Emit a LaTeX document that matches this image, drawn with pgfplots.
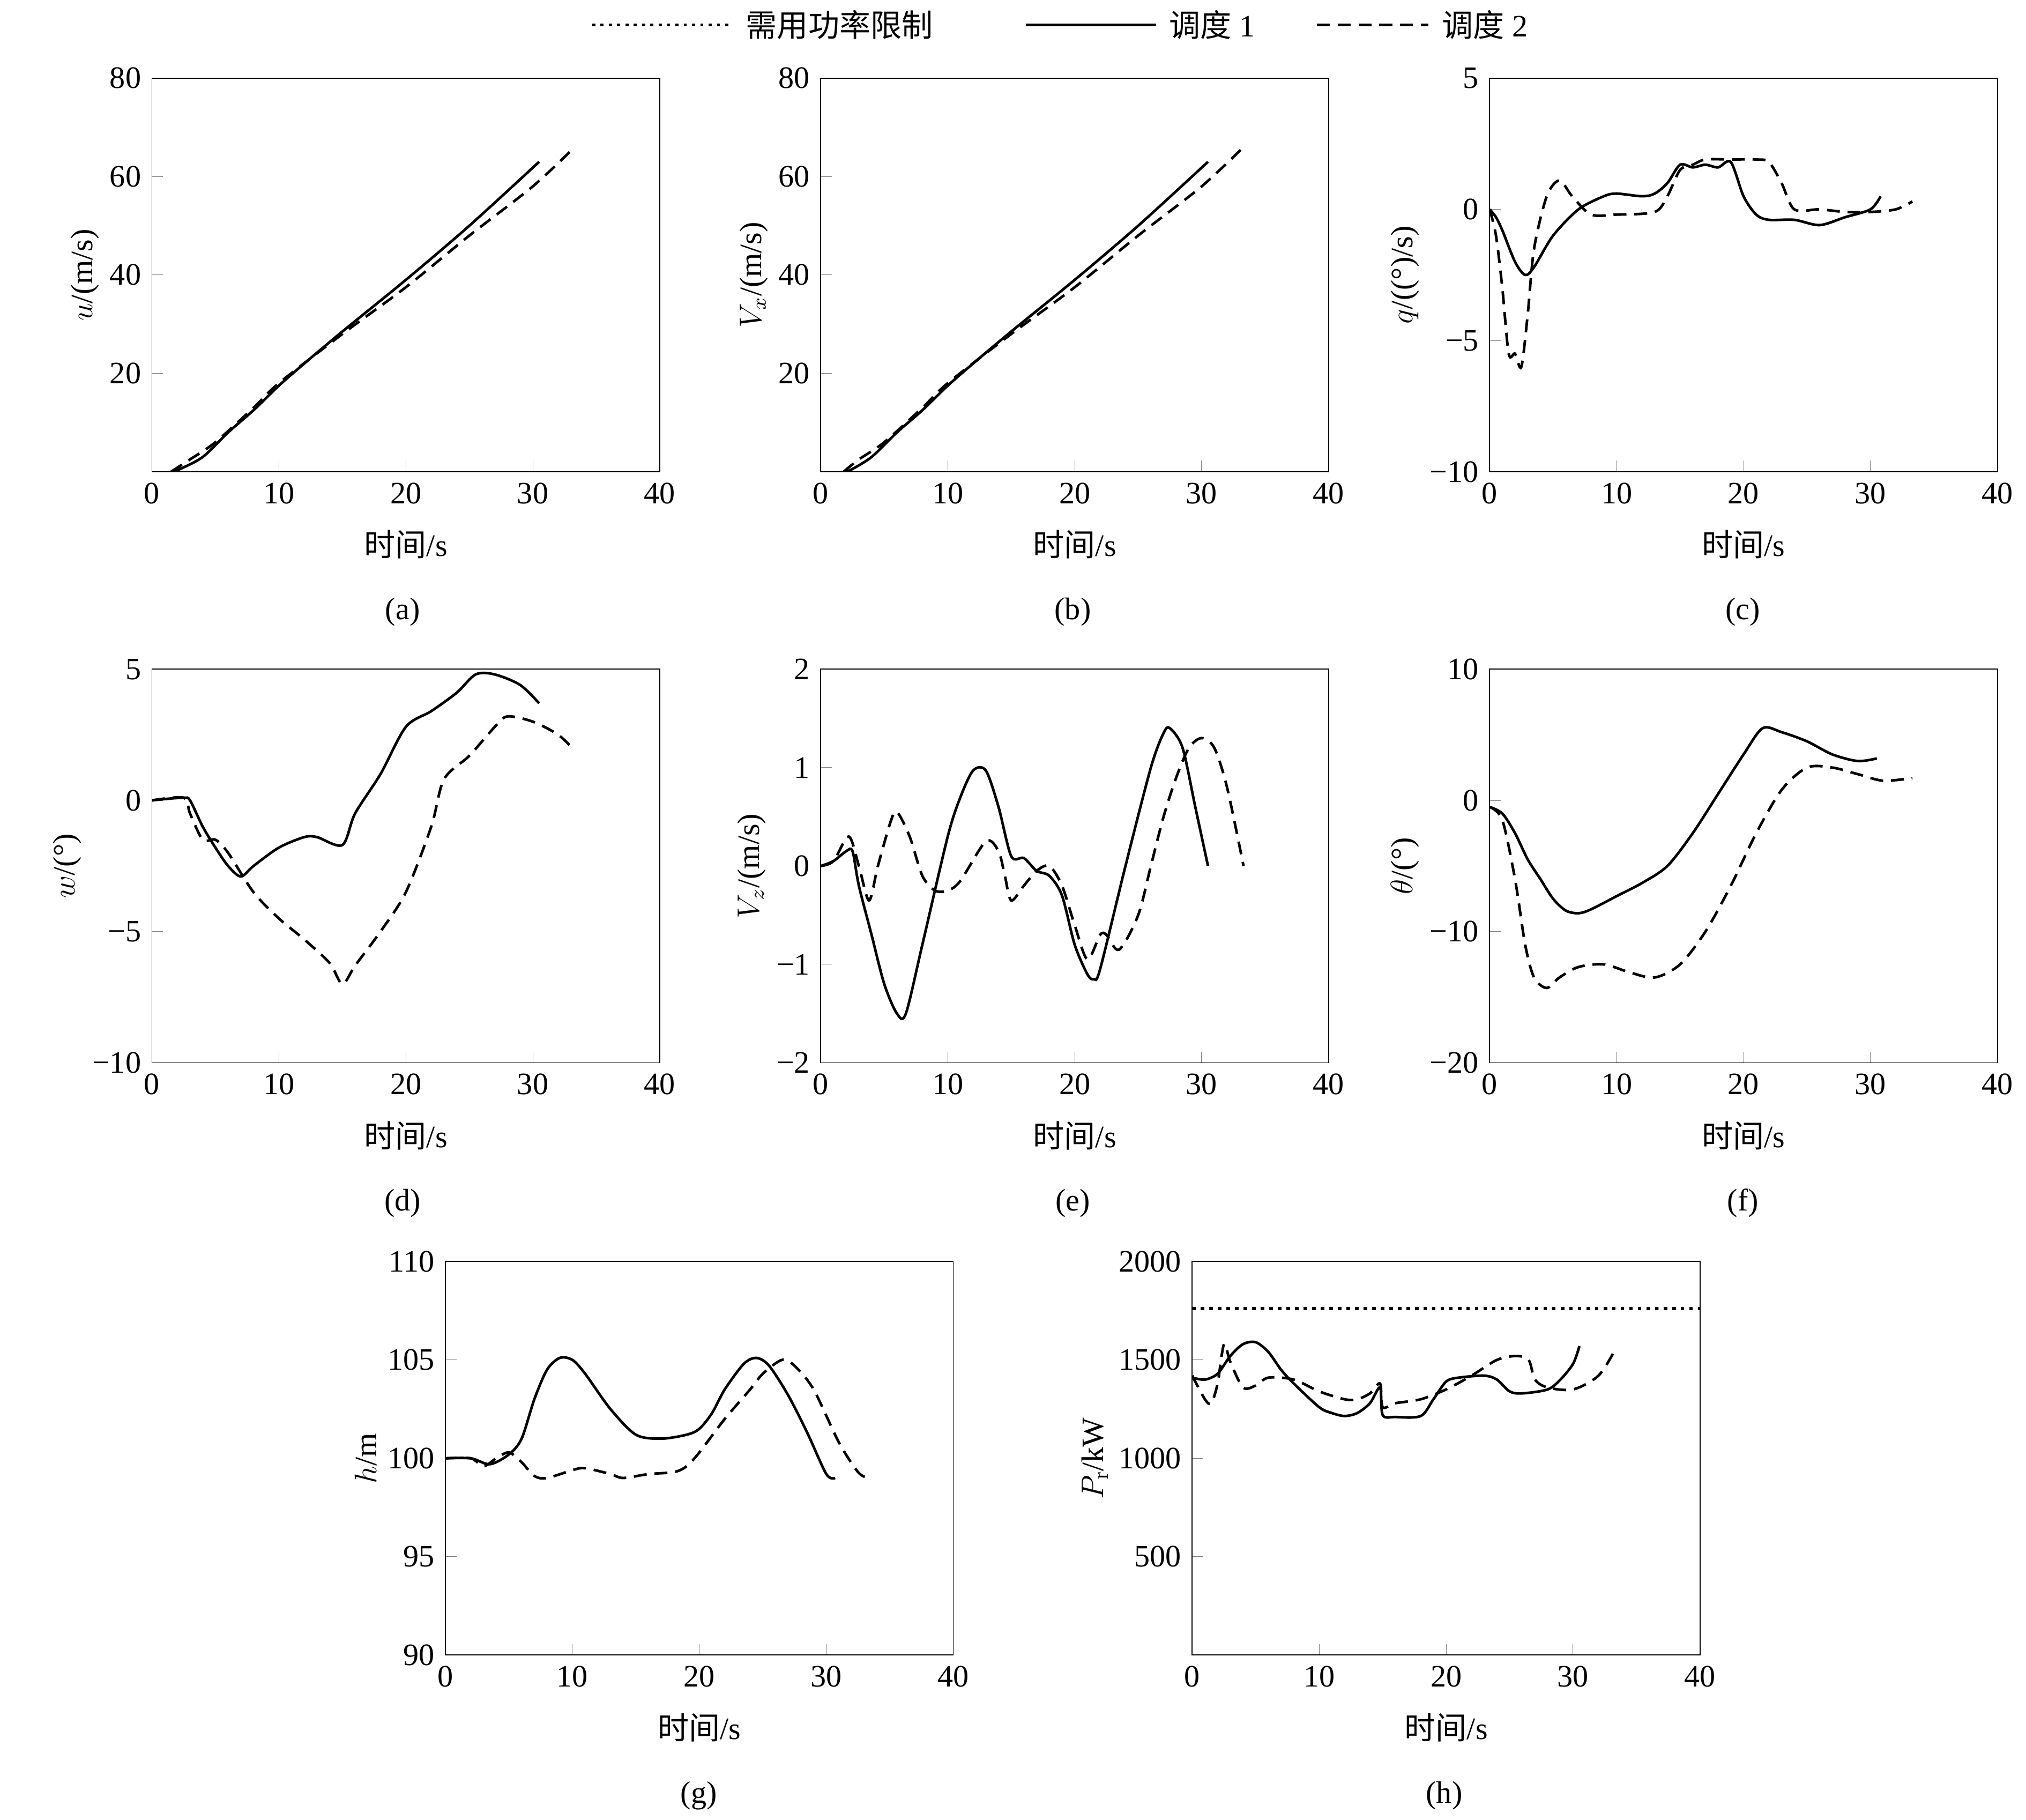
\documentclass[border=0pt]{standalone}
\usepackage{pgfplots}
\pgfplotsset{compat=1.18}
\usepackage{fontspec}
\setmainfont{Liberation Serif}
\newfontfamily\cjk{Noto Sans CJK SC}
\begin{document}
\fontsize{12}{14}\selectfont
\begin{tikzpicture}
\pgfplotsset{base/.style={scale only axis,width=195.5pt,height=151.5pt,anchor=south west,
 xmin=0,xmax=40,xtick={0,10,20,30,40},tick align=inside,xtick pos=left,ytick pos=left,
 /pgf/number format/assume math mode=true,/pgf/number format/1000 sep={},tick label style={font=\fontsize{12}{14}\selectfont},
 label style={font=\fontsize{12}{14}\selectfont},
 xlabel={{\cjk 时间}/s},xlabel style={yshift=-2pt},ylabel style={yshift=-4pt},
 every axis plot/.append style={black,line width=1pt,smooth}},
 sol/.style={solid},das/.style={dashed,dash pattern=on 5pt off 3pt}}
\path (0,0) rectangle (780pt,696pt);
% legend
\draw[black,line width=1.2pt,dotted] (228pt,689pt)--(282pt,689pt);
\node[anchor=west] at (283pt,689pt) {\cjk 需用功率限制};
\draw[black,line width=1pt] (395pt,689pt)--(445pt,689pt);
\node[anchor=west] at (446pt,689pt) {{\cjk 调度} 1};
\draw[black,line width=1pt,dash pattern=on 5pt off 3pt] (507pt,689pt)--(550pt,689pt);
\node[anchor=west] at (551pt,689pt) {{\cjk 调度} 2};
% (a)
\begin{axis}[base,at={(58.5pt,517pt)},ymin=0,ymax=80,ytick={20,40,60,80},ylabel={$u$/(m/s)}]
\addplot[sol] coordinates {(1.5,0)(2,0.3)(4,3)(6,8)(8,12.5)(10,17.5)(12,22)(15,28.5)(20,39)(25,50)(30.5,63)};
\addplot[das] coordinates {(1.5,0)(3,2.5)(5,6)(8,13)(10,18)(15,28)(20,37.5)(25,48)(30,58)(33.3,66)};
\end{axis}
\node at (155pt,463pt) {(a)};
% (b)
\begin{axis}[base,at={(316pt,517pt)},ymin=0,ymax=80,ytick={20,40,60,80},ylabel={$V_x$/(m/s)}]
\addplot[sol] coordinates {(1.8,0)(2.3,0.3)(4,3)(6,8)(8,12.5)(10,17.5)(12,22)(15,28.5)(20,39)(25,50)(30.5,63)};
\addplot[das] coordinates {(1.8,0)(3,2.5)(5,6)(8,13)(10,18)(15,28)(20,37.5)(25,48)(30,58)(33.3,66)};
\end{axis}
\node at (413pt,463pt) {(b)};
% (c)
\begin{axis}[base,at={(573.5pt,517pt)},ymin=-10,ymax=5,ytick={-10,-5,0,5},yticklabels={−10,−5,0,5},ylabel={$q$/((\textdegree)/s)}]
\addplot[sol] coordinates {(0,0)(0.5,-0.3)(1,-0.8)(2,-2)(2.8,-2.5)(3.5,-2.2)(5,-1)(7,0)(9,0.5)(10,0.6)(12,0.5)(13,0.6)(14,1)(15,1.7)(16,1.6)(17,1.7)(18,1.6)(19,1.8)(20,0.5)(21,-0.2)(22,-0.4)(24,-0.4)(26,-0.6)(28,-0.3)(30,0)(30.8,0.5)};
\addplot[das] coordinates {(0,0)(0.5,-1)(1,-3)(1.5,-5.5)(2,-5.5)(2.5,-6)(3,-4)(3.5,-1.5)(4.5,0.5)(5.5,1.1)(6.5,0.5)(8,-0.2)(10,-0.2)(13,-0.1)(14,0.5)(15,1.5)(16,1.7)(17,1.9)(19,1.9)(21,1.9)(22,1.8)(23,1)(24,0)(26,0)(28,-0.1)(30,-0.1)(32,0)(33.3,0.3)};
\end{axis}
\node at (671pt,463pt) {(c)};
% (d)
\begin{axis}[base,at={(58.5pt,289.5pt)},ymin=-10,ymax=5,ytick={-10,-5,0,5},yticklabels={−10,−5,0,5},ylabel={$w$/(\textdegree)}]
\addplot[sol] coordinates {(0,0)(1,0.05)(2.5,0.1)(3,0)(4,-1)(5,-1.8)(6,-2.5)(7,-2.9)(8,-2.5)(10,-1.8)(12,-1.4)(13,-1.4)(15,-1.7)(16,-0.5)(18,1)(20,2.8)(22,3.4)(24,4.1)(25.5,4.8)(27,4.8)(29,4.4)(30.5,3.7)};
\addplot[das] coordinates {(0,0)(2.5,0.1)(3,-0.5)(4,-1.5)(5,-1.5)(6,-2)(8,-3.5)(10,-4.5)(12,-5.3)(14,-6.2)(15,-7)(16,-6.3)(18,-5)(20,-3.5)(22,-1)(23,0.8)(25,1.7)(27,2.8)(28,3.2)(30,3)(32,2.5)(33.3,1.9)};
\end{axis}
\node at (155pt,235.5pt) {(d)};
% (e)
\begin{axis}[base,at={(316pt,289.5pt)},ymin=-2,ymax=2,ytick={-2,-1,0,1,2},yticklabels={−2,−1,0,1,2},ylabel={$V_z$/(m/s)}]
\addplot[sol] coordinates {(0,0)(1,0.05)(2,0.15)(2.5,0.15)(3,-0.2)(4,-0.7)(5,-1.2)(6,-1.5)(6.7,-1.5)(8,-0.8)(10,0.3)(11,0.7)(12,0.97)(13,0.97)(14,0.6)(15,0.1)(16,0.08)(17,-0.05)(18,-0.1)(19,-0.3)(20,-0.8)(21,-1.1)(21.5,-1.15)(22,-1.05)(24,0)(26,1)(27,1.35)(27.5,1.4)(28.5,1.2)(29.5,0.6)(30.5,0)};
\addplot[das] coordinates {(0,0)(1,0.05)(2.2,0.3)(3,0)(3.8,-0.35)(4.5,0)(5.5,0.45)(6,0.55)(7,0.3)(8,-0.1)(9,-0.25)(10,-0.25)(11,-0.15)(13,0.25)(14,0.15)(14.5,-0.1)(15,-0.35)(16,-0.2)(17,-0.05)(18,0)(19,-0.2)(20,-0.6)(21,-0.95)(22,-0.7)(22.5,-0.7)(23.5,-0.85)(25,-0.5)(26,0)(27,0.5)(28,0.9)(29,1.2)(30,1.3)(31,1.2)(32,0.8)(33.3,0)};
\end{axis}
\node at (413pt,235.5pt) {(e)};
% (f)
\begin{axis}[base,at={(573.5pt,289.5pt)},ymin=-20,ymax=10,ytick={-20,-10,0,10},yticklabels={−20,−10,0,10},ylabel={$\theta$/(\textdegree)}]
\addplot[sol] coordinates {(0,-0.5)(1,-1)(2,-2.5)(3,-4.5)(4,-6)(5,-7.5)(6,-8.4)(7,-8.6)(8,-8.3)(10,-7.3)(12,-6.3)(14,-5)(16,-2.5)(18,0.5)(20,3.5)(21.5,5.5)(23,5.2)(25,4.5)(27,3.5)(29,3)(30.5,3.2)};
\addplot[das] coordinates {(0,-0.5)(1,-1.5)(2,-6)(2.8,-11)(3.5,-13.5)(4.5,-14.3)(5.5,-13.5)(7,-12.7)(9,-12.5)(11,-13.1)(13,-13.5)(15,-12.5)(17,-10)(19,-6.5)(21,-2.5)(23,0.8)(25,2.5)(27,2.5)(29,2)(31,1.5)(33.3,1.7)};
\end{axis}
\node at (671pt,235.5pt) {(f)};
% (g)
\begin{axis}[base,at={(171.5pt,61.5pt)},ymin=90,ymax=110,ytick={90,95,100,105,110},ylabel={$h$/m}]
\addplot[sol] coordinates {(0,100)(2,100)(3.5,99.7)(5,100.2)(6,101)(7,103)(8,104.5)(9,105.1)(10,105)(11,104.3)(13,102.5)(15,101.2)(17,101)(19,101.2)(20,101.5)(21,102.3)(22,103.5)(23.5,104.8)(24.5,105.1)(25.5,104.7)(27,103.2)(28.5,101.3)(30,99.2)(30.7,99)};
\addplot[das] coordinates {(0,100)(2,100)(3,99.6)(4,100)(5,100.3)(6,99.8)(7,99.1)(8,99)(10,99.4)(11,99.5)(13,99.2)(14,99)(16,99.2)(18,99.3)(19,99.6)(20,100.3)(22,102)(24,103.5)(25,104.3)(26.5,105)(27.5,104.7)(29,103.5)(31,100.8)(32.5,99.3)(33.3,99)};
\end{axis}
\node at (269pt,7.5pt) {(g)};
% (h)
\begin{axis}[base,at={(459pt,61.5pt)},ymin=0,ymax=2000,ytick={500,1000,1500,2000},ylabel={$P_{\mathrm{r}}$/kW}]
\addplot[line width=1.3pt,dotted,smooth=false] coordinates {(0,1760)(40,1760)};
\addplot[sol] coordinates {(0,1410)(1,1400)(2,1430)(3,1520)(4,1580)(5,1590)(6,1540)(7,1450)(8,1380)(10,1260)(11,1230)(12,1215)(13,1230)(14,1280)(14.8,1360)(15,1220)(16,1210)(18,1215)(19,1300)(20,1390)(21,1410)(23,1420)(24,1400)(25,1340)(26,1330)(28,1350)(29,1400)(30,1480)(30.5,1570)};
\addplot[das] coordinates {(0,1420)(1,1300)(1.5,1280)(2,1380)(2.5,1580)(3,1490)(4,1360)(5,1370)(6,1410)(8,1400)(10,1340)(12,1300)(13,1300)(14,1330)(14.8,1380)(15,1260)(16,1280)(18,1300)(20,1350)(22,1420)(24,1500)(25.5,1520)(26.5,1500)(27,1400)(28,1360)(30,1350)(32,1420)(33.3,1550)};
\end{axis}
\node at (556pt,7.5pt) {(h)};
\end{tikzpicture}
\end{document}
